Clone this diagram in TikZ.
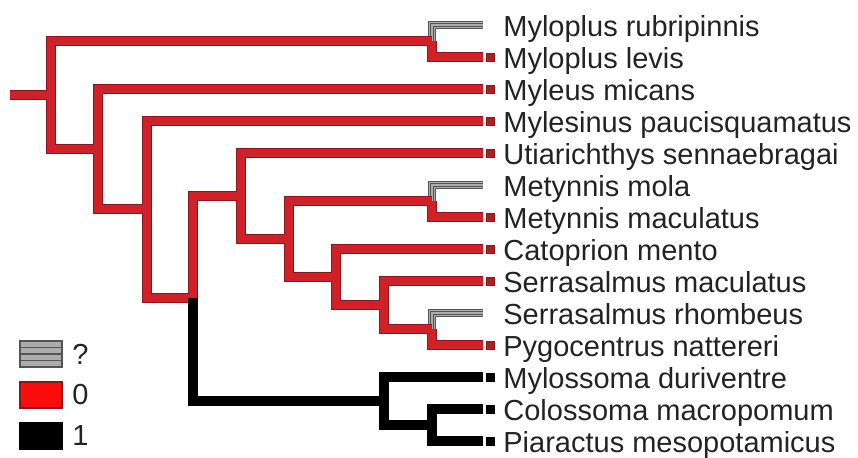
\documentclass[tikz,border=0pt]{standalone}
\usepackage{fontspec}
\setmainfont{Liberation Sans}
\usetikzlibrary{calc}

\definecolor{brd}{RGB}{140,22,28}
\definecolor{stred}{RGB}{208,32,40}
\definecolor{keyred}{RGB}{250,12,12}
\definecolor{qlight}{RGB}{172,172,172}
\definecolor{qdark}{RGB}{85,85,85}
\definecolor{txt}{RGB}{35,35,35}

\tikzset{
  redout/.style={line width=5pt,draw=brd},
  redin/.style={line width=3.6pt,draw=stred},
  blackedge/.style={line width=5pt,draw=black},
  qout/.style={line width=4pt,draw=qdark},
  qin/.style={line width=3.2pt,draw=qlight},
  qstripe/.style={line width=0.35pt,draw=qdark,double=qlight,double distance=0.9pt},
  taxon/.style={anchor=base west,inner sep=0pt,text=txt,font=\fontsize{14.5}{17}\selectfont},
  tipbox/.style={draw=brd,fill=stred!85!black,line width=0.4pt,minimum size=4pt,inner sep=0pt},
  keybox/.style={draw=qdark,line width=0.6pt,minimum width=21pt,minimum height=13pt,inner sep=0pt},
}

\begin{document}
\begin{tikzpicture}[x=0.5pt,y=-0.5pt]
  \useasboundingbox (0,0) rectangle (858,457);
  % inner nodes of the tree
  \coordinate (r0) at (10,95); \coordinate (nRoot) at (51,95);
  \coordinate (nMyloplus) at (432,41); \coordinate (nMyleus) at (98,149);
  \coordinate (nMylesinus) at (147,209); \coordinate (nCore) at (193,298);
  \coordinate (nUtiar) at (241,196); \coordinate (nMetCat) at (289,239);
  \coordinate (nMetynnis) at (432,201); \coordinate (nCato) at (336,277);
  \coordinate (nSerra) at (384,305); \coordinate (nPygo) at (432,329);
  \coordinate (nMylossoma) at (384,401); \coordinate (nColo) at (432,425);
  % leaves
  \foreach \i/\n/\t in {0/rubr/Myloplus rubripinnis,1/levi/Myloplus levis,2/myle/Myleus micans,
    3/myls/Mylesinus paucisquamatus,4/utia/Utiarichthys sennaebragai,5/mola/Metynnis mola,
    6/mmac/Metynnis maculatus,7/cato/Catoprion mento,8/smac/Serrasalmus maculatus,
    9/rhom/Serrasalmus rhombeus,10/pygo/Pygocentrus nattereri,11/mylo/Mylossoma duriventre,
    12/colo/Colossoma macropomum,13/piar/Piaractus mesopotamicus}{
    \coordinate (t\n) at (483,25+32*\i);
    \node[taxon] (l\n) at (503,36.5+32*\i) {\t};
  }
  \def\rededges{nRoot/nMyloplus,nRoot/nMyleus,nMyloplus/tlevi,nMyleus/tmyle,nMyleus/nMylesinus,
    nMylesinus/tmyls,nMylesinus/nCore,nCore/nUtiar,nUtiar/tutia,nUtiar/nMetCat,nMetCat/nMetynnis,
    nMetCat/nCato,nMetynnis/tmmac,nCato/tcato,nCato/nSerra,nSerra/tsmac,nSerra/nPygo,nPygo/tpygo}
  % state ? (unknown)
  \foreach \a/\b in {nMyloplus/trubr,nMetynnis/tmola,nPygo/trhom}{
    \draw[qout] (\a) |- (\b);
    \draw[qin] (\a) |- (\b);
    \draw[qstripe] (\a) |- (\b);
  }
  % state 0
  \draw[redout] (r0) -- (nRoot);
  \foreach \a/\b in \rededges \draw[redout] (\a) |- (\b);
  \draw[redin] (r0) -- (nRoot);
  \foreach \a/\b in \rededges \draw[redin] (\a) |- (\b);
  % state 1
  \foreach \a/\b in {nCore/nMylossoma,nMylossoma/tmylo,nMylossoma/nColo,nColo/tcolo,nColo/tpiar}
    \draw[blackedge] (\a) |- (\b);
  % end marks
  \foreach \n in {levi,myle,myls,utia,mmac,cato,smac,pygo}
    \node[tipbox] (s\n) at ($(t\n)+(7,0)$) {};
  \foreach \n in {mylo,colo,piar}
    \node[tipbox,draw=black,fill=black] (s\n) at ($(t\n)+(7,0)$) {};
  % legend
  \node[keybox,fill=qlight] (keyq) at (41,354) {};
  \foreach \k in {1,2,3}
    \draw[qdark,line width=0.6pt] ($(keyq.north west)!\k/4!(keyq.south west)$) -- ($(keyq.north east)!\k/4!(keyq.south east)$);
  \node[keybox,draw=brd,fill=keyred] (keyzero) at (41,395) {};
  \node[keybox,draw=black,fill=black] (keyone) at (41,436) {};
  \node[taxon,anchor=west] (kq) at (72,354) {?};
  \node[taxon,anchor=west] (kzero) at (72,395) {0};
  \node[taxon,anchor=west] (kone) at (72,436) {1};
\end{tikzpicture}
\end{document}
